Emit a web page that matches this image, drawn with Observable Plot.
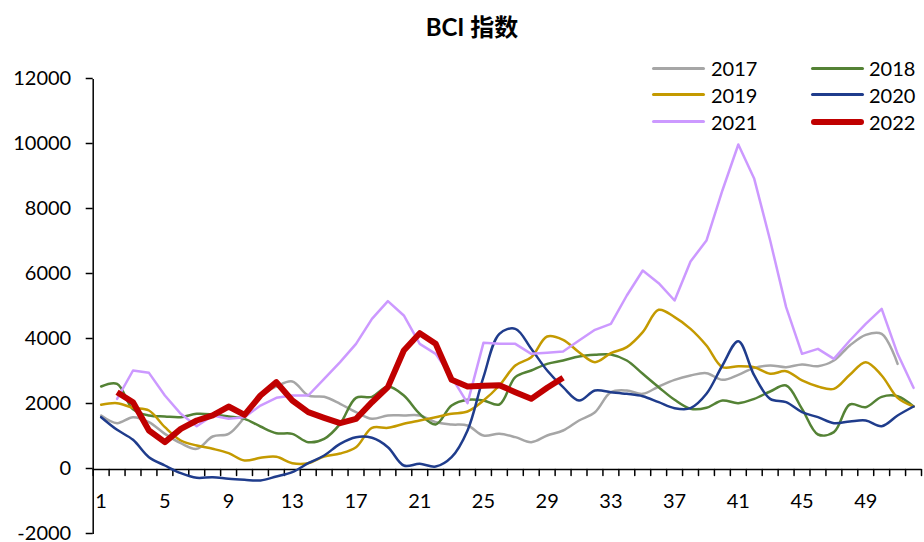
<!DOCTYPE html>
<html><head><meta charset="utf-8">
<script src="https://cdn.jsdelivr.net/npm/d3@7"></script>
<script src="https://cdn.jsdelivr.net/npm/@observablehq/plot@0.6"></script>
<style>
body{margin:0;background:#fff;}
#wrap{position:relative;width:924px;height:542px;font-family:Lato,"Noto Sans CJK SC",sans-serif;color:#000;}
#title{height:54px;line-height:54px;text-align:center;font-weight:bold;font-size:24px;padding-left:20px;box-sizing:border-box;font-family:Lato,"Noto Sans CJK SC",sans-serif;}
.lg{position:absolute;font-size:20px;line-height:20px;}
.sw{position:absolute;height:0;}
</style></head>
<body>
<div id="wrap">
<div id="title">BCI 指数</div>
<div id="chart"></div>
</div>
<script>
const weeks = d3.range(1, 53);
const years = ["2017","2018","2019","2020","2021","2022"];
const colors = ["#A6A6A6","#548235","#C49A00","#1F3C8C","#CC99FF","#C00000"];
const yTicks = [-2000,0,2000,4000,6000,8000,10000,12000];
const xLabels = [1,5,9,13,17,21,25,29,33,37,41,45,49];

const y2017 = [1662,1426,1610,1457,1097,810,636,1015,1097,1610,2277,2554,2708,2277,2236,2021,1764,1559,1662,1662,1662,1457,1385,1354,1046,1097,995,841,1046,1200,1508,1764,2380,2431,2328,2554,2759,2893,2964,2759,2913,3128,3200,3149,3231,3180,3354,3815,4144,4174,3251,null];
const y2018 = [2554,2636,1850,1662,1631,1610,1713,1692,1631,1559,1323,1118,1097,841,944,1405,2205,2236,2554,2277,1713,1385,1969,2144,2123,2000,2841,3046,3251,3354,3477,3528,3539,3354,2944,2533,2144,1867,1898,2123,2041,2174,2400,2585,1867,1077,1149,2000,1918,2236,2256,1938];
const y2019 = [1990,2041,1898,1815,1303,892,738,636,503,277,359,390,195,195,400,492,687,1282,1282,1405,1508,1610,1713,1785,2123,2585,3200,3456,4092,3990,3610,3303,3580,3764,4226,4913,4688,4328,3815,3149,3180,3149,2944,3026,2739,2554,2482,2913,3303,2893,2205,1938];
const y2020 = [1610,1221,913,379,123,-113,-256,-236,-287,-318,-338,-215,-82,195,431,790,995,975,687,123,174,92,379,1200,2841,4174,4328,3713,3046,2533,2123,2431,2380,2328,2256,2071,1887,1887,2328,3200,3949,2893,2174,2071,1764,1610,1426,1477,1508,1333,1662,1938];
const y2021 = [null,2174,3046,2974,2277,1713,1333,1662,1559,1610,1969,2205,2277,2277,2790,3303,3867,4636,5180,4739,3867,3559,2841,2041,3898,3867,3867,3559,3590,3631,3969,4298,4482,5354,6123,5733,5200,6400,7046,8585,10000,8944,7046,4995,3559,3713,3405,3969,4482,4944,3559,2513];
const y2022 = [null,2379,2071,1200,841,1251,1508,1662,1938,1682,2277,2687,2123,1764,1590,1426,1559,2071,2533,3662,4195,3867,2759,2554,2574,2595,2380,2174,2513,2821];

const series = [y2017,y2018,y2019,y2020,y2021,y2022];
const curves = ["catmull-rom","catmull-rom","catmull-rom","catmull-rom","linear","linear"];
const widths = [2.5,2.5,2.5,2.5,2.5,6];

function tidy(vals){ return weeks.map((w,i)=>({w, v: vals[i]})).filter(d=>d.v!=null); }
const bounds = d3.range(0.5, 53, 1);
const tickShape = {draw(ctx, l){ ctx.moveTo(0,0); ctx.lineTo(0,-l); }};

const lineMarks = series.map((s,i)=>Plot.line(tidy(s), {x:"w", y:"v", stroke: colors[i], strokeWidth: widths[i], curve: curves[i], strokeLinejoin:"round", strokeLinecap: i===5?"butt":"round"}));

const chart = Plot.plot({
  width: 924, height: 488,
  marginTop: 25, marginBottom: 8, marginLeft: 92.7, marginRight: 3,
  style: {fontFamily: 'Lato, "Noto Sans CJK SC", sans-serif', background: "#fff", overflow: "visible"},
  x: {domain: [0.5, 52.5], axis: null},
  y: {domain: [-2000, 12000]},
  marks: [
    Plot.axisY(yTicks, {tickSize: 7, tickPadding: 15, fontSize: 20, tickFormat: d=>String(d), label: null, strokeWidth: 1.5, dy: -1}),
    Plot.ruleX([0.5], {y1: -2000, y2: 12000, strokeWidth: 1.5}),
    Plot.ruleY([0], {x1: 0.5, x2: 52.5, strokeWidth: 1.5}),
    Plot.vector(bounds, {x: d=>d, y: 0, length: 6, rotate: 180, anchor: "start", shape: tickShape, stroke: "#000", strokeWidth: 1.5}),
    Plot.text(xLabels, {x: d=>d, y: 0, dy: 32, text: d=>String(d), fontSize: 20}),
    ...lineMarks
  ]
});
document.getElementById("chart").appendChild(chart);

const wrap = document.getElementById("wrap");
years.forEach((yr,i)=>{
  const col = i%2, row = Math.floor(i/2);
  const lx = col ? 811 : 652, tx = col ? 869 : 711, cy = 68 + row*26.8;
  const sw = document.createElement("div");
  sw.className = "sw";
  const h = i===5 ? 6 : 3;
  sw.style.cssText = `left:${lx}px;top:${cy-h/2}px;width:53px;height:${h}px;background:${colors[i]};border-radius:${h/2}px;`;
  wrap.appendChild(sw);
  const t = document.createElement("div");
  t.className = "lg";
  t.style.left = tx+"px"; t.style.top = (cy-10)+"px";
  t.textContent = yr;
  wrap.appendChild(t);
});
</script>
</body></html>
